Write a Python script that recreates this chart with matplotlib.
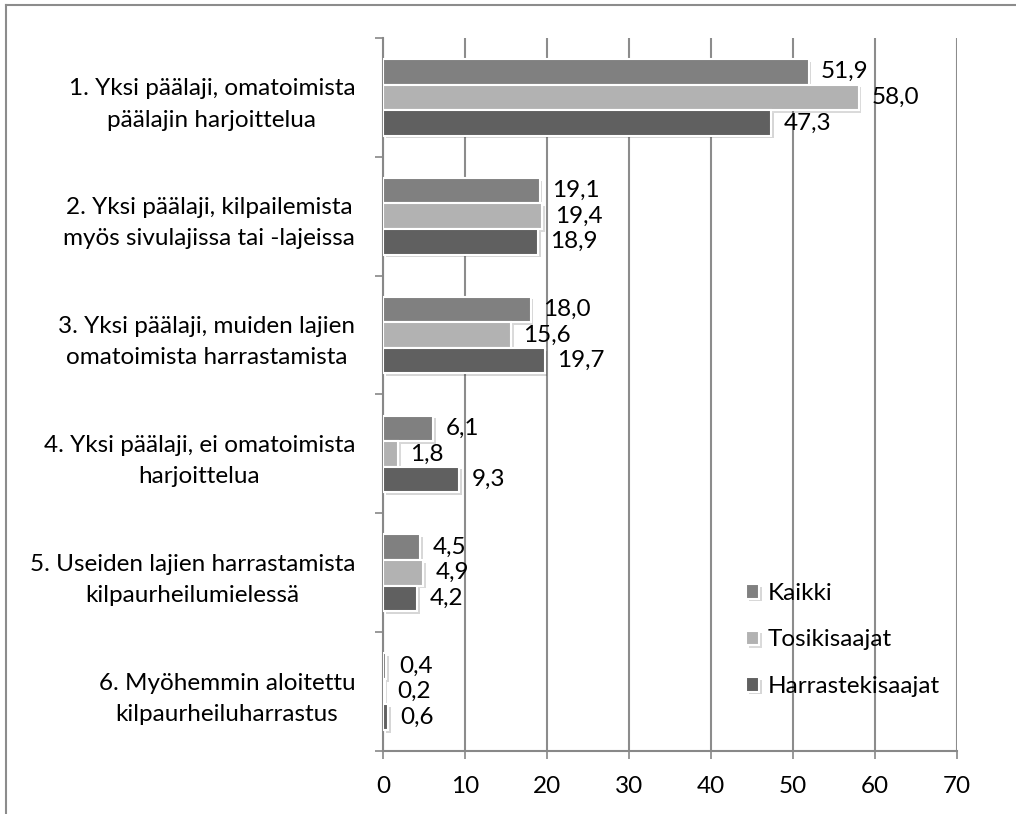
import matplotlib
matplotlib.use("Agg")
import matplotlib.pyplot as plt
import matplotlib.patheffects as pe
from matplotlib.lines import Line2D
import numpy as np

plt.rcParams['font.family'] = ['Lato', 'DejaVu Sans']

categories = [
    "1. Yksi päälaji, omatoimista\npäälajin harjoittelua",
    "2. Yksi päälaji, kilpailemista\nmyös sivulajissa tai -lajeissa",
    "3. Yksi päälaji, muiden lajien\nomatoimista harrastamista",
    "4. Yksi päälaji, ei omatoimista\nharjoittelua",
    "5. Useiden lajien harrastamista\nkilpaurheilumielessä",
    "6. Myöhemmin aloitettu\nkilpaurheiluharrastus",
]
series_names = ["Kaikki", "Tosikisaajat", "Harrastekisaajat"]
kaikki = [51.9, 19.1, 18.0, 6.1, 4.5, 0.4]
tosi = [58.0, 19.4, 15.6, 1.8, 4.9, 0.2]
harraste = [47.3, 18.9, 19.7, 9.3, 4.2, 0.6]
colors = ['#808080', '#b2b2b2', '#606060']

FS = 17.5

fig = plt.figure(figsize=(10.16, 8.14), dpi=100)
ax = fig.add_axes([0.377, 0.0774, 0.565, 0.876])

y = np.arange(len(categories))
h = 0.215
shadow = [pe.SimplePatchShadow(offset=(2, -2), alpha=0.18), pe.Normal()]
for i, (vals, name, c) in enumerate(zip([kaikki, tosi, harraste], series_names, colors)):
    pos = y + (i - 1) * h
    bars = ax.barh(pos, vals, height=h, color=c, edgecolor='white', linewidth=1.5,
                   label=name, zorder=3)
    for b in bars:
        b.set_path_effects(shadow)
    for p, v in zip(pos, vals):
        ax.annotate(('%.1f' % v).replace('.', ','), (v, p), xytext=(9, 0),
                    textcoords='offset points', ha='left', va='center',
                    fontsize=FS, zorder=4)

ax.set_xlim(0, 70)
ax.set_ylim(len(categories) - 0.5, -0.5)
ax.set_xticks(range(0, 71, 10))
ax.set_yticks(y)
ax.set_yticklabels(categories, multialignment='center', fontsize=FS, linespacing=1.6)
ax.set_yticks(np.arange(-0.5, len(categories), 1), minor=True)
ax.tick_params(axis='y', which='major', length=0, pad=20)
ax.tick_params(axis='y', which='minor', length=6, color='#888888', width=1.2)
ax.tick_params(axis='x', length=6, color='#888888', width=1.2, labelsize=FS, pad=12)
ax.grid(axis='x', color='#8c8c8c', linewidth=1.5, zorder=0)
ax.set_axisbelow(True)
for s in ['top', 'right']:
    ax.spines[s].set_visible(False)
for s in ['left', 'bottom']:
    ax.spines[s].set_color('#888888')
    ax.spines[s].set_linewidth(1.5)

leg = ax.legend(loc='center left', bbox_to_anchor=(0.734, 0.2138),
                bbox_transform=fig.transFigure, frameon=False,
                fontsize=FS, handlelength=0.55, handleheight=0.55,
                labelspacing=1.05, handletextpad=0.35, borderpad=0, borderaxespad=0)

# outer frame (left and top edges)
fig.add_artist(Line2D([0.0055, 0.0055], [0, 0.9935], transform=fig.transFigure,
                      color='#8c8c8c', linewidth=1.5))
fig.add_artist(Line2D([0.0055, 1], [0.9935, 0.9935], transform=fig.transFigure,
                      color='#8c8c8c', linewidth=1.5))

fig.savefig('out.png', dpi=100)
